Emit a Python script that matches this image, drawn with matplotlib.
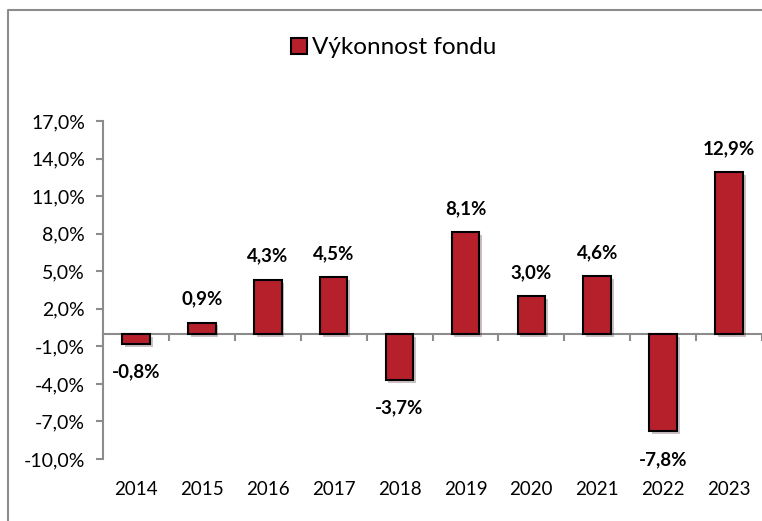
import matplotlib
matplotlib.use('Agg')
import matplotlib.pyplot as plt
import numpy as np
from matplotlib.patches import Patch
from matplotlib.lines import Line2D
from matplotlib.ticker import FuncFormatter
import matplotlib.patheffects as pe

plt.rcParams['font.family'] = ['Lato', 'DejaVu Sans']

# Data
years = ['2014', '2015', '2016', '2017', '2018', '2019', '2020', '2021', '2022', '2023']
performance = [-0.8, 0.9, 4.3, 4.5, -3.7, 8.1, 3.0, 4.6, -7.8, 12.9]
y_ticks = [-10, -7, -4, -1, 2, 5, 8, 11, 14, 17]

bar_color = '#B5202A'
axis_gray = '#8C8C8C'
y_min, y_max = -10, 17

fig = plt.figure(figsize=(7.62, 5.21), dpi=100)
ax = fig.add_axes([103 / 762, 1 - 459 / 521, 1 - 103 / 762, (459 - 121) / 521])

x = np.arange(len(years))
bars = ax.bar(x, performance, width=0.42, color=bar_color, edgecolor='black', linewidth=1.5, zorder=3)
for b in bars:
    b.set_path_effects([pe.SimplePatchShadow(offset=(2, -2), alpha=0.25), pe.Normal()])

# Data labels
for xi, v in zip(x, performance):
    label = f"{v:.1f}%".replace('.', ',')
    if v >= 0:
        ax.annotate(label, (xi, v), xytext=(0, 11), textcoords='offset points',
                    ha='center', va='bottom', fontsize=13.5, fontweight='bold')
    else:
        ax.annotate(label, (xi, v), xytext=(0, -14), textcoords='offset points',
                    ha='center', va='top', fontsize=13.5, fontweight='bold')

ax.set_xlim(-0.5, len(years) - 0.5)
ax.set_ylim(y_min, y_max)
ax.set_yticks(y_ticks)
ax.yaxis.set_major_formatter(FuncFormatter(lambda v, p: f"{v:.1f}%".replace('.', ',')))
ax.tick_params(axis='y', labelsize=14, length=5, width=1.5, color=axis_gray, direction='out', pad=8)

# year labels at the bottom, no bottom spine
ax.set_xticks(x)
ax.set_xticklabels(years)
ax.tick_params(axis='x', labelsize=13.5, length=0, pad=16)

for s in ['top', 'right', 'bottom']:
    ax.spines[s].set_visible(False)
ax.spines['left'].set_color(axis_gray)
ax.spines['left'].set_linewidth(1.5)

# category axis at zero
zero_frac = (0 - y_min) / (y_max - y_min)
sec = ax.secondary_xaxis(zero_frac)
sec.set_xticks(np.arange(-0.5, len(years), 1))
sec.set_xticklabels([])
sec.tick_params(axis='x', length=5, width=1.5, color=axis_gray, direction='out')
sec.spines['bottom'].set_color(axis_gray)
sec.spines['bottom'].set_linewidth(1.5)

# Legend
handle = Patch(facecolor=bar_color, edgecolor='black', linewidth=1.5)
fig.legend([handle], ['Výkonnost fondu'], loc='center', bbox_to_anchor=(394 / 762, 1 - 48 / 521),
           frameon=False, fontsize=17.5, handlelength=0.65, handleheight=0.65, handletextpad=0.2)

# chart border (only left and top visible)
fig.add_artist(Line2D([8 / 762, 8 / 762, 1.0], [0, 1 - 10 / 521, 1 - 10 / 521],
                      transform=fig.transFigure, color=axis_gray, linewidth=1.5))

plt.savefig('out.png', dpi=100)
plt.close()
